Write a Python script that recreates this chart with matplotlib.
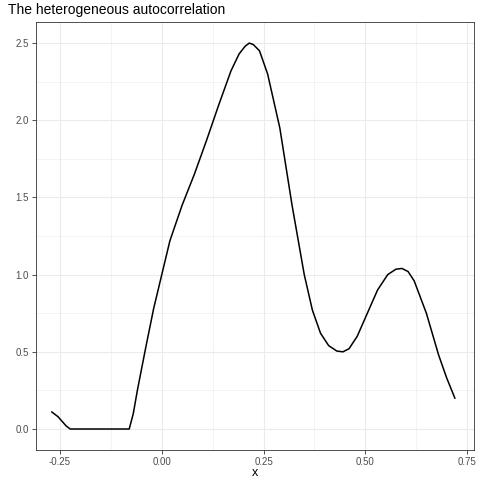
import matplotlib.pyplot as plt
import numpy as np

# values
xs = [-0.27, -0.255, -0.235, -0.225, -0.08, -0.07, -0.06, -0.04, -0.02, 0.0, 0.02, 0.05,
      0.08, 0.11, 0.14, 0.17, 0.19, 0.205, 0.215, 0.225, 0.24, 0.26, 0.29, 0.32, 0.35, 0.37,
      0.39, 0.41, 0.43, 0.445, 0.46, 0.48, 0.50, 0.53, 0.555, 0.575, 0.59, 0.605, 0.62,
      0.65, 0.68, 0.70, 0.72]
ys = [0.11, 0.08, 0.02, 0.0, 0.0, 0.1, 0.25, 0.52, 0.78, 1.0, 1.22, 1.45,
      1.65, 1.87, 2.1, 2.32, 2.43, 2.48, 2.5, 2.49, 2.45, 2.3, 1.95, 1.45, 1.0, 0.77,
      0.62, 0.54, 0.505, 0.5, 0.52, 0.6, 0.72, 0.9, 1.0, 1.035, 1.04, 1.02, 0.96,
      0.75, 0.48, 0.33, 0.2]
xticks = [-0.25, 0.0, 0.25, 0.5, 0.75]
xticklabels = ["-0.25", "0.00", "0.25", "0.50", "0.75"]
yticks = [0.0, 0.5, 1.0, 1.5, 2.0, 2.5]

plt.rcParams['font.family'] = ['Liberation Sans', 'DejaVu Sans']
fig, ax = plt.subplots(figsize=(4.8, 4.8), dpi=100)
fig.subplots_adjust(left=0.075, right=0.9875, top=0.954, bottom=0.0625)

ax.plot(xs, ys, color="black", lw=1.1)
ax.set_xlim(-0.309, 0.767)
ax.set_ylim(-0.136, 2.636)
ax.set_xticks(xticks)
ax.set_xticklabels(xticklabels)
ax.set_yticks(yticks)
ax.set_xticks([-0.125, 0.125, 0.375, 0.625], minor=True)
ax.set_yticks([0.25, 0.75, 1.25, 1.75, 2.25], minor=True)
ax.grid(which="major", color="#ebebeb", lw=0.8)
ax.grid(which="minor", color="#ebebeb", lw=0.4)
ax.set_axisbelow(True)
ax.tick_params(which="major", labelsize=7, colors="#333333", length=3, width=0.6, pad=2)
ax.tick_params(which="minor", length=0)
ax.tick_params(axis="both", labelcolor="#4d4d4d")
for s in ax.spines.values():
    s.set_color("#333333")
    s.set_linewidth(0.6)
ax.set_xlabel("x", fontsize=9, labelpad=0)
ax.set_title("The heterogeneous autocorrelation", loc="left", fontsize=10, x=-0.063, pad=6)

fig.savefig("out.png")
